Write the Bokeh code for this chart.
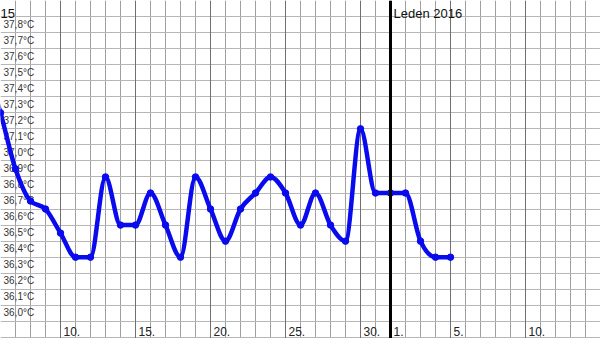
import numpy as np
from bokeh.plotting import figure
from bokeh.models import FixedTicker, Grid, ColumnDataSource, Span
from bokeh.core.properties import value
from bokeh.embed import file_html
from bokeh.resources import INLINE

# ---- data ----
dec_days = [5, 6, 7, 8, 9, 10, 11, 12, 13, 14, 15, 16, 17, 18, 19, 20,
            21, 22, 23, 24, 25, 26, 27, 28, 29, 30, 31]
dec_temps = [37.5, 37.2, 36.85, 36.65, 36.6, 36.45, 36.3, 36.3, 36.8, 36.5,
             36.5, 36.7, 36.5, 36.3, 36.8, 36.6, 36.4, 36.6, 36.7, 36.8,
             36.7, 36.5, 36.7, 36.5, 36.4, 37.1, 36.7]
jan_days = [1, 2, 3, 4, 5]
jan_temps = [36.7, 36.7, 36.4, 36.3, 36.3]

temp_ticks = [36.0, 36.1, 36.2, 36.3, 36.4, 36.5, 36.6, 36.7, 36.8, 36.9,
              37.0, 37.1, 37.2, 37.3, 37.4, 37.5, 37.6, 37.7, 37.8]
dec_label_days = [10, 15, 20, 25, 30]
jan_label_days = [1, 5, 10]
month_names = ["15", "Leden 2016"]   # "15" = visible tail of the previous month's label
month_label_days = [6, 32]
month_sep_day = 32   # Jan 1

DEC_LEN = 31
FONT = "Liberation Sans"
BLUE = "#0a0aee"

x_all = np.array(dec_days + [DEC_LEN + d for d in jan_days], dtype=float)
y_all = np.array(dec_temps + jan_temps, dtype=float)

# monotone cubic tangents (like curveMonotoneX)
def monotone_tangents(x, y):
    n = len(x)
    h = np.diff(x)
    s = np.diff(y) / h
    m = np.zeros(n)
    for i in range(1, n - 1):
        s0, s1 = s[i - 1], s[i]
        p = (s0 * h[i] + s1 * h[i - 1]) / (h[i - 1] + h[i])
        m[i] = (np.sign(s0) + np.sign(s1)) * min(abs(s0), abs(s1), 0.5 * abs(p))
    m[0] = (3 * s[0] - m[1]) / 2
    m[-1] = (3 * s[-1] - m[-2]) / 2
    return m

m = monotone_tangents(x_all, y_all)
dx = np.diff(x_all) / 3.0
bez = ColumnDataSource(dict(
    x0=x_all[:-1], y0=y_all[:-1], x1=x_all[1:], y1=y_all[1:],
    cx0=x_all[:-1] + dx, cy0=y_all[:-1] + dx * m[:-1],
    cx1=x_all[1:] - dx, cy1=y_all[1:] - dx * m[1:],
))

X0, X1 = 6, 46
Y0, Y1 = 35.793, 37.9

p = figure(width=600, height=338, x_range=(X0, X1), y_range=(Y0, Y1),
           output_backend="svg", toolbar_location=None,
           x_axis_location=None, y_axis_location=None,
           min_border=0, outline_line_color=None)

# grid
p.xgrid.ticker = FixedTicker(ticks=list(range(X0, X1 + 1)))
p.xgrid.grid_line_color = "#a0a0a0"
p.xgrid.grid_line_width = 1
major_days = [d for d in dec_label_days] + [DEC_LEN + d for d in [5, 10, 15]]
p.add_layout(Grid(dimension=0, ticker=FixedTicker(ticks=major_days),
                  grid_line_color="#707070", grid_line_width=1))
p.ygrid.ticker = FixedTicker(ticks=[round(35.8 + 0.1 * i, 1) for i in range(21)])
p.ygrid.grid_line_color = "#b6b6b6"
p.ygrid.grid_line_width = 1

# month separator
p.add_layout(Span(location=month_sep_day, dimension="height",
                  line_color="black", line_width=3))

# y labels
p.text(x=[X0] * len(temp_ticks), y=temp_ticks,
       text=[f"{v:.1f}".replace(".", ",") + "°C" for v in temp_ticks],
       text_font=value(FONT), text_font_size="10px", text_color="#333333",
       text_baseline="top", x_offset=3, y_offset=2)

# x labels
xl_x = dec_label_days + [DEC_LEN + d for d in jan_label_days]
xl_t = [f"{d}." for d in dec_label_days + jan_label_days]
p.text(x=xl_x, y=[Y0] * len(xl_x), text=xl_t,
       text_font=value(FONT), text_font_size="12px", text_color="#222222",
       text_baseline="alphabetic", x_offset=3, y_offset=-7)

# month labels
p.text(x=month_label_days, y=[37.8, 37.8], text=month_names,
       text_font=value(FONT), text_font_size="13px", text_color="#111111",
       text_baseline="alphabetic", x_offset=[0, 3], y_offset=-3)

# temperature curve
p.bezier(x0="x0", y0="y0", x1="x1", y1="y1", cx0="cx0", cy0="cy0",
         cx1="cx1", cy1="cy1", source=bez, line_color=BLUE, line_width=4.5,
         line_cap="round")
p.scatter(x=x_all, y=y_all, size=6.5, color=BLUE)

open("out.html", "w").write(file_html(p, INLINE))
